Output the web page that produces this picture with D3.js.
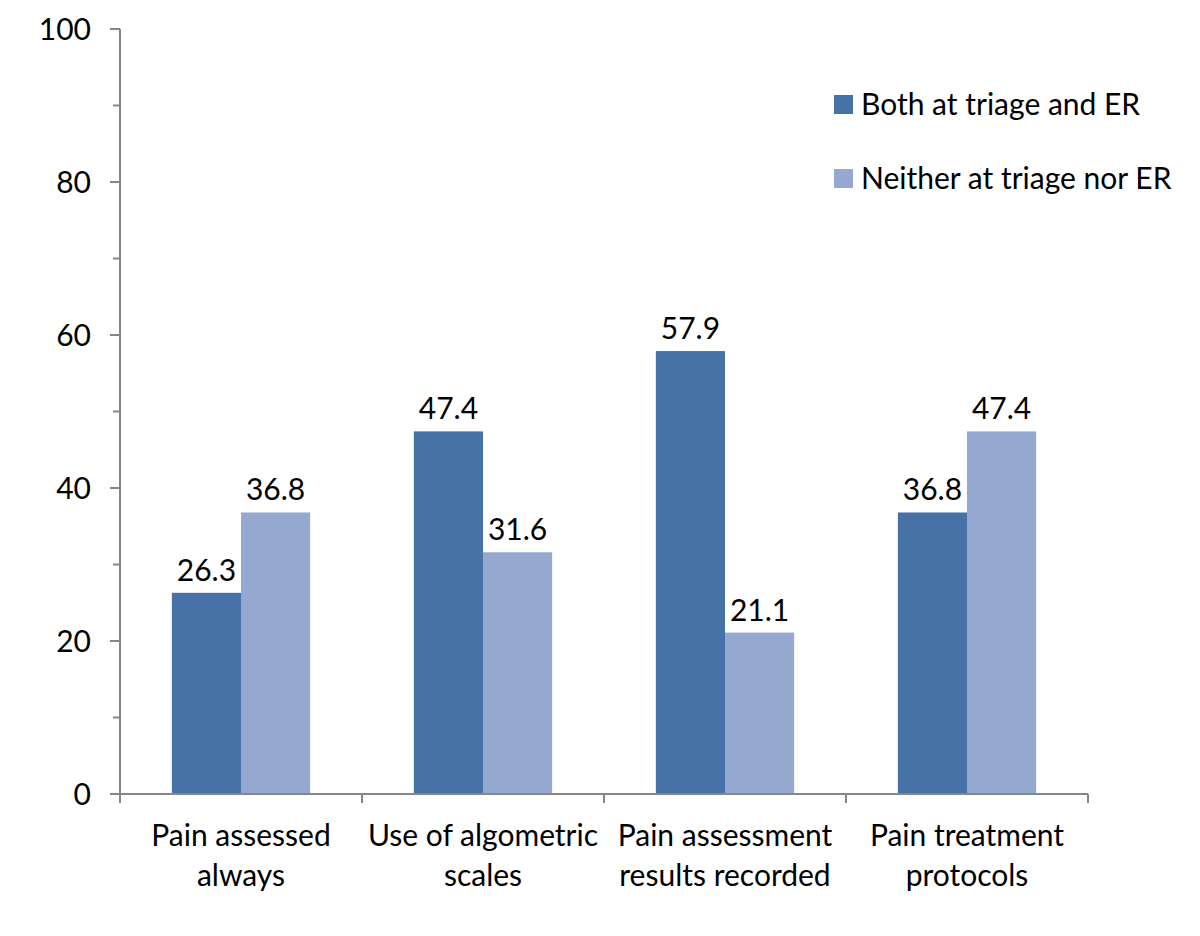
<!DOCTYPE html>
<html><head><meta charset="utf-8">
<script src="https://cdn.jsdelivr.net/npm/d3@7"></script>
<style>body{margin:0;background:#fff}svg{display:block}text{font-family:Lato,"Open Sans",sans-serif;fill:#000}</style>
</head><body><svg id="c" width="1200" height="936"></svg>
<script>
const categories = [["Pain assessed","always"],["Use of algometric","scales"],["Pain assessment","results recorded"],["Pain treatment","protocols"]];
const seriesNames = ["Both at triage and ER","Neither at triage nor ER"];
const both = [26.3, 47.4, 57.9, 36.8];
const neither = [36.8, 31.6, 21.1, 47.4];
const yTicks = [0,20,40,60,80,100];
const yMinor = [10,30,50,70,90];
const colors = ["#4672A8","#95A9D0"];

(function(){
const svg = d3.select("#c");
const pl = 120, pr = 1088, pt = 29, pb = 794;
const x = d3.scaleBand().domain(d3.range(categories.length)).range([pl, pr]).paddingInner(0).paddingOuter(0);
const y = d3.scaleLinear().domain([0,100]).range([pb, pt]);
const inner = d3.scaleBand().domain([0,1]).range([0, x.bandwidth()]).paddingOuter(0.75).paddingInner(0);
const axisColor = "#868686";
const fs = 30;

const series = [both, neither];
series.forEach((vals, si) => {
  svg.append("g").selectAll("rect").data(vals).join("rect")
    .attr("x", (d,i) => x(i) + inner(si))
    .attr("width", inner.bandwidth())
    .attr("y", d => y(d))
    .attr("height", d => y(0) - y(d))
    .attr("fill", colors[si]);
  svg.append("g").selectAll("text").data(vals).join("text")
    .attr("x", (d,i) => x(i) + inner(si) + inner.bandwidth()/2)
    .attr("y", d => y(d) - 12)
    .attr("text-anchor","middle")
    .attr("font-size", fs)
    .text(d => d.toFixed(1));
});

const ya = svg.append("g");
ya.append("line").attr("x1",pl).attr("x2",pl).attr("y1",y(100)).attr("y2",y(0)).attr("stroke",axisColor).attr("stroke-width",2);
ya.selectAll(".maj").data(yTicks).join("line").attr("x1",pl-10).attr("x2",pl).attr("y1",d=>y(d)).attr("y2",d=>y(d)).attr("stroke",axisColor).attr("stroke-width",2);
ya.selectAll(".min").data(yMinor).join("line").attr("x1",pl-7).attr("x2",pl).attr("y1",d=>y(d)).attr("y2",d=>y(d)).attr("stroke",axisColor).attr("stroke-width",2);
ya.selectAll("text").data(yTicks).join("text").attr("x", 91).attr("y", d=>y(d)+11).attr("text-anchor","end").attr("font-size",fs).text(d=>d);

const xa = svg.append("g");
xa.append("line").attr("x1",pl).attr("x2",pr).attr("y1",pb).attr("y2",pb).attr("stroke",axisColor).attr("stroke-width",2);
const bounds = d3.range(categories.length+1).map(i => i < categories.length ? x(i) : pr);
xa.selectAll(".tk").data(bounds).join("line").attr("x1",d=>d).attr("x2",d=>d).attr("y1",pb).attr("y2",pb+9).attr("stroke",axisColor).attr("stroke-width",2);
categories.forEach((lines,i) => {
  const t = xa.append("text").attr("text-anchor","middle").attr("font-size",fs);
  lines.forEach((l,k) => t.append("tspan").attr("x", x(i)+x.bandwidth()/2).attr("y", 846 + k*40).text(l));
});

seriesNames.forEach((n,i) => {
  const ly = 104 + i*74;
  svg.append("rect").attr("x",834).attr("y",ly-9).attr("width",19).attr("height",19).attr("fill",colors[i]);
  svg.append("text").attr("x",861).attr("y",ly+11).attr("font-size",fs).text(n);
});
})();
</script></body></html>
